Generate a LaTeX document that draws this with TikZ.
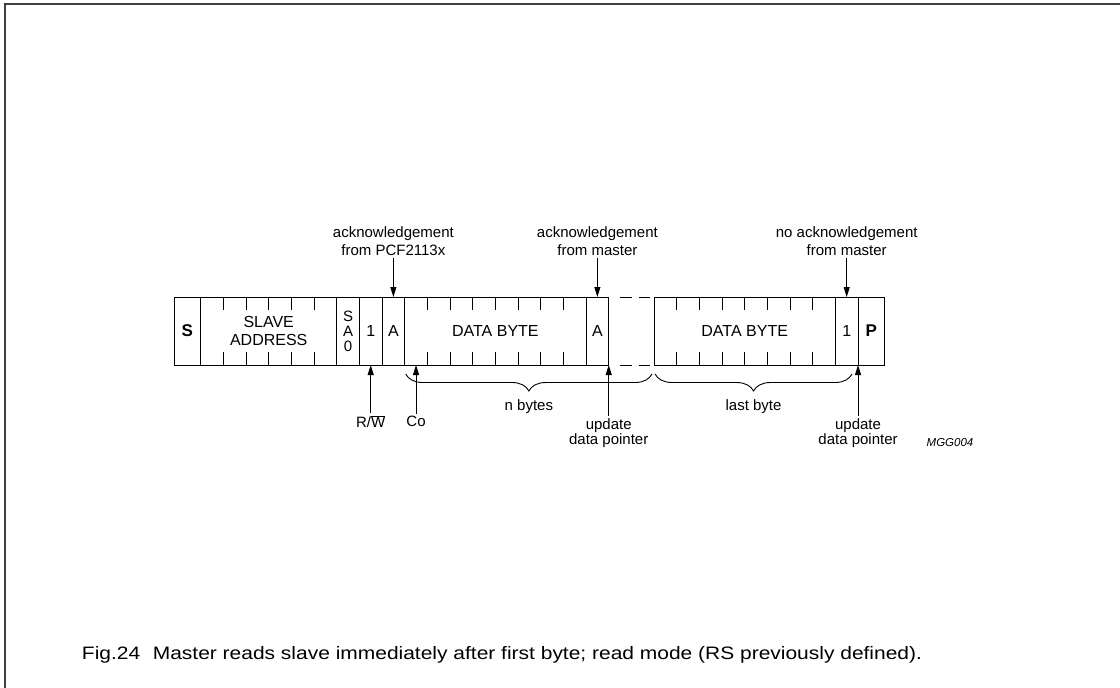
\documentclass[tikz,border=0pt]{standalone}
\usepackage{fontspec}
\setmainfont{Liberation Sans}
\usetikzlibrary{arrows.meta,positioning,decorations.pathreplacing}

\newcommand{\bitw}{22.67pt}

\begin{document}
\begin{tikzpicture}[
    x = 1pt, y = -1pt, % screen-like units
    > = {Triangle[length=10pt,width=6pt]}, % arrow head style
    node distance = 0pt, % cells touch each other
    line width = 0.9pt % line style
    ]

    \tikzset{
    cell/.style = {draw, minimum height = 68pt, minimum width = \bitw,
      inner sep = 0pt, outer sep = 0pt, align = center,
      font = \fontsize{16}{18}\selectfont},
    boldcell/.style = {cell, minimum width = 26.7pt,
      font = \bfseries\fontsize{17}{19}\selectfont},
    lbl/.style = {inner sep = 2pt, align = center,
      font = \fontsize{15}{15.5}\selectfont},
    toplbl/.style = {lbl, font = \fontsize{15}{18}\selectfont},
    brace/.style = {decorate, decoration = {brace, mirror, amplitude = 17pt}}
    }

    \useasboundingbox (0,0) rectangle (1120,688);
    \draw[line width = 1.5pt, black!75] (5,688) -- (5,4) -- (1120,4);

    % the frame of cells
    \node[boldcell, anchor = north west] (s) at (174,297) {S};
    \node[cell, minimum width = 136pt] (addr) [right=of s] {SLAVE\\ADDRESS};
    \node[cell, font = \fontsize{15}{15}\selectfont] (sa0) [right=of addr] {S\\A\\0};
    \node[cell] (rw) [right=of sa0] {1};
    \node[cell] (ack1) [right=of rw] {A};
    \node[cell, minimum width = 181.33pt] (byte1) [right=of ack1] {DATA BYTE};
    \node[cell] (ack2) [right=of byte1] {A};
    \node[cell, draw = none, minimum width = 45.33pt] (gap) [right=of ack2] {};
    \node[cell, minimum width = 181.33pt] (byte2) [right=of gap] {DATA BYTE};
    \node[cell] (nack) [right=of byte2] {1};
    \node[boldcell] (p) [right=of nack] {P};

    % bit ticks
    \foreach \i in {1,...,5} {
      \draw (addr.north west) ++(\i*22.67,0) -- ++(0,13);
      \draw (addr.south west) ++(\i*22.67,0) -- ++(0,-13);
    }
    \foreach \b in {byte1,byte2} {
      \foreach \i in {1,...,7} {
        \draw (\b.north west) ++(\i*22.67,0) -- ++(0,13);
        \draw (\b.south west) ++(\i*22.67,0) -- ++(0,-13);
      }
    }
    \draw[dash pattern = on 12pt off 7pt] ([xshift=11pt]gap.north west) -- ([xshift=-4pt]gap.north east);
    \draw[dash pattern = on 12pt off 7pt] ([xshift=11pt]gap.south west) -- ([xshift=-4pt]gap.south east);

    % labels above
    \node[toplbl] (ack1lbl) [above=39pt of ack1] {acknowledgement\\from PCF2113x};
    \node[toplbl] (ack2lbl) [above=39pt of ack2] {acknowledgement\\from master};
    \node[toplbl] (nacklbl) [above=39pt of nack] {no acknowledgement\\from master};
    \draw[->] (ack1lbl) -- (ack1);
    \draw[->] (ack2lbl) -- (ack2);
    \draw[->] (nacklbl) -- (nack);

    % labels below
    \coordinate (co) at ([xshift=11.33pt]byte1.south west);
    \node[lbl] (rwlbl) [below=48pt of rw] {R/$\overline{\hbox{W}}$};
    \node[lbl] (colbl) [below=49pt of co] {Co};
    \node[lbl] (upd1) [below=51pt of ack2.south east] {update\\data pointer};
    \node[lbl] (upd2) [below=51pt of nack.south east] {update\\data pointer};
    \draw[->] (rwlbl) -- (rw);
    \draw[->] (colbl) -- (co);
    \draw[->] (upd1) -- (ack2.south east);
    \draw[->] (upd2) -- (nack.south east);

    % braces
    \draw[brace] ([xshift=1pt,yshift=-9pt]byte1.south west) -- node[lbl, below=23pt] (nbytes) {n bytes} ([xshift=-2pt,yshift=-9pt]byte2.south west);
    \draw[brace] ([xshift=1pt,yshift=-9pt]byte2.south west) -- node[lbl, below=23pt] (lastbyte) {last byte} ([xshift=-6pt,yshift=-9pt]nack.south east);

    \node[font = \itshape\fontsize{11.5}{13}\selectfont] (code) at (950,443) {MGG004};
    \node[font = \fontsize{18}{20}\selectfont] (caption) at (502,655)
      {\scalebox{1.165}[1]{Fig.24\hspace{0.6em}Master reads slave immediately after first byte; read mode (RS previously defined).}};
\end{tikzpicture}
\end{document}
